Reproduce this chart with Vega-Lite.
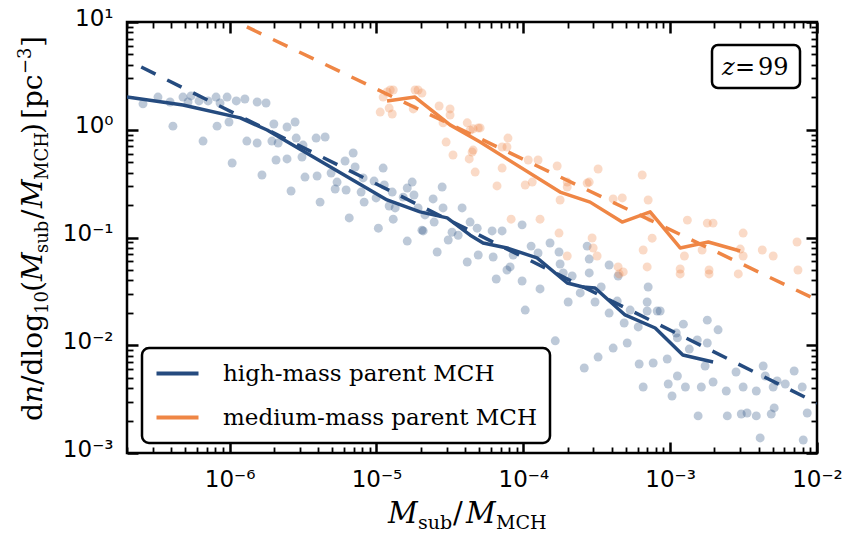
{
  "$schema": "https://vega.github.io/schema/vega-lite/v6.json",
  "width": 690,
  "height": 431,
  "autosize": {"type": "none"},
  "padding": {"left": 127, "top": 22, "right": 25, "bottom": 81},
  "background": "white",
  "config": {
    "font": "DejaVu Sans",
    "view": {"stroke": "black", "strokeWidth": 2.5},
    "axis": {"domain": false, "grid": false, "title": null, "tickColor": "black", "labelColor": "black", "labelFont": "DejaVu Sans", "labelFontSize": 23, "labelFlush": false, "labelOverlap": false},
    "legend": {"labelFont": "DejaVu Serif"}
  },
  "datasets": {
    "high_pts": [
      {"m": 2.57e-7, "dn": 1.74}, {"m": 3.25e-7, "dn": 2.01}, {"m": 3.93e-7, "dn": 1.81}, {"m": 4.11e-7, "dn": 1.08},
      {"m": 4.81e-7, "dn": 2.01}, {"m": 5.21e-7, "dn": 1.81}, {"m": 5.46e-7, "dn": 2.06}, {"m": 6.19e-7, "dn": 1.85},
      {"m": 6.59e-7, "dn": 0.785}, {"m": 7.13e-7, "dn": 1.85}, {"m": 8.08e-7, "dn": 2.01}, {"m": 8.21e-7, "dn": 1.08},
      {"m": 8.6e-7, "dn": 1.77}, {"m": 9.61e-7, "dn": 2.01}, {"m": 9.9e-7, "dn": 1.18}, {"m": 1.04e-6, "dn": 0.491},
      {"m": 1.11e-6, "dn": 1.85}, {"m": 1.27e-6, "dn": 1.93}, {"m": 1.31e-6, "dn": 0.785}, {"m": 1.54e-6, "dn": 1.81},
      {"m": 1.54e-6, "dn": 0.753}, {"m": 1.66e-6, "dn": 0.38}, {"m": 1.77e-6, "dn": 1.77}, {"m": 1.94e-6, "dn": 0.785},
      {"m": 2.0e-6, "dn": 1.13}, {"m": 2.07e-6, "dn": 0.524}, {"m": 2.14e-6, "dn": 0.753}, {"m": 2.46e-6, "dn": 1.06},
      {"m": 2.46e-6, "dn": 0.536}, {"m": 2.62e-6, "dn": 0.27}, {"m": 2.79e-6, "dn": 1.18}, {"m": 2.84e-6, "dn": 0.837},
      {"m": 3.11e-6, "dn": 0.559}, {"m": 3.16e-6, "dn": 0.721}, {"m": 3.26e-6, "dn": 0.364}, {"m": 3.88e-6, "dn": 0.837},
      {"m": 3.94e-6, "dn": 0.372}, {"m": 4.13e-6, "dn": 0.213}, {"m": 4.47e-6, "dn": 0.856}, {"m": 4.91e-6, "dn": 0.397},
      {"m": 5.23e-6, "dn": 0.282}, {"m": 5.39e-6, "dn": 0.327}, {"m": 6.11e-6, "dn": 0.513}, {"m": 6.21e-6, "dn": 0.276},
      {"m": 6.52e-6, "dn": 0.152}, {"m": 6.94e-6, "dn": 0.608}, {"m": 7.15e-6, "dn": 0.451}, {"m": 7.86e-6, "dn": 0.264},
      {"m": 8.11e-6, "dn": 0.357}, {"m": 8.24e-6, "dn": 0.213}, {"m": 9.63e-6, "dn": 0.334}, {"m": 9.94e-6, "dn": 0.233},
      {"m": 1.03e-5, "dn": 0.122}, {"m": 1.11e-5, "dn": 0.441}, {"m": 1.13e-5, "dn": 0.307}, {"m": 1.22e-5, "dn": 0.196},
      {"m": 1.28e-5, "dn": 0.264}, {"m": 1.3e-5, "dn": 0.148}, {"m": 1.34e-5, "dn": 0.188}, {"m": 1.52e-5, "dn": 0.237},
      {"m": 1.62e-5, "dn": 0.288}, {"m": 1.75e-5, "dn": 0.327}, {"m": 1.8e-5, "dn": 0.248}, {"m": 1.92e-5, "dn": 0.188},
      {"m": 2.04e-5, "dn": 0.117}, {"m": 2.14e-5, "dn": 0.162}, {"m": 2.43e-5, "dn": 0.228}, {"m": 2.47e-5, "dn": 0.139},
      {"m": 2.8e-5, "dn": 0.294}, {"m": 2.84e-5, "dn": 0.188}, {"m": 3.83e-5, "dn": 0.188}, {"m": 4.34e-5, "dn": 0.139},
      {"m": 4.85e-5, "dn": 0.122}, {"m": 1.62e-5, "dn": 0.0927}, {"m": 2.08e-5, "dn": 0.115}, {"m": 2.59e-5, "dn": 0.0733},
      {"m": 3.08e-5, "dn": 0.0948}, {"m": 3.27e-5, "dn": 0.112}, {"m": 3.6e-5, "dn": 0.105}, {"m": 4.15e-5, "dn": 0.0592},
      {"m": 4.93e-5, "dn": 0.0688}, {"m": 6.13e-5, "dn": 0.115}, {"m": 6.23e-5, "dn": 0.0659}, {"m": 6.54e-5, "dn": 0.0412},
      {"m": 7.17e-5, "dn": 0.115}, {"m": 7.74e-5, "dn": 0.0499}, {"m": 8.13e-5, "dn": 0.0533}, {"m": 8.53e-5, "dn": 0.0688},
      {"m": 9.81e-5, "dn": 0.131}, {"m": 9.81e-5, "dn": 0.0395}, {"m": 1.03e-4, "dn": 0.0212}, {"m": 1.13e-4, "dn": 0.0832},
      {"m": 1.26e-4, "dn": 0.0718}, {"m": 1.3e-4, "dn": 0.0333}, {"m": 1.52e-4, "dn": 0.0889}, {"m": 1.65e-4, "dn": 0.011},
      {"m": 1.75e-4, "dn": 0.0733}, {"m": 1.78e-4, "dn": 0.0568}, {"m": 1.87e-4, "dn": 0.0469}, {"m": 2.02e-4, "dn": 0.0252},
      {"m": 2.15e-4, "dn": 0.0439}, {"m": 2.44e-4, "dn": 0.0306}, {"m": 2.6e-4, "dn": 0.00615}, {"m": 2.72e-4, "dn": 0.0832},
      {"m": 2.81e-4, "dn": 0.0631}, {"m": 2.81e-4, "dn": 0.0469}, {"m": 3.08e-4, "dn": 0.0252}, {"m": 3.23e-4, "dn": 0.00777},
      {"m": 3.39e-4, "dn": 0.0347}, {"m": 3.84e-4, "dn": 0.0556}, {"m": 3.84e-4, "dn": 0.0199}, {"m": 4.09e-4, "dn": 0.00942},
      {"m": 4.36e-4, "dn": 0.0257}, {"m": 4.42e-4, "dn": 0.0439}, {"m": 4.86e-4, "dn": 0.0161}, {"m": 5.1e-4, "dn": 0.0105},
      {"m": 5.34e-4, "dn": 0.0212}, {"m": 6.06e-4, "dn": 0.0148}, {"m": 6.15e-4, "dn": 0.0067}, {"m": 6.55e-4, "dn": 0.0041},
      {"m": 6.97e-4, "dn": 0.0252}, {"m": 6.97e-4, "dn": 0.0208}, {"m": 7.08e-4, "dn": 0.0347}, {"m": 7.66e-4, "dn": 0.00684},
      {"m": 8.16e-4, "dn": 0.0208}, {"m": 8.55e-4, "dn": 0.0208}, {"m": 9.55e-4, "dn": 0.00745}, {"m": 9.7e-4, "dn": 0.00437},
      {"m": 1.03e-3, "dn": 0.00338}, {"m": 1.1e-3, "dn": 0.013}, {"m": 1.12e-3, "dn": 0.0117}, {"m": 1.12e-3, "dn": 0.00518},
      {"m": 1.23e-3, "dn": 0.0157}, {"m": 1.27e-3, "dn": 0.0041}, {"m": 1.35e-3, "dn": 0.00922}, {"m": 1.53e-3, "dn": 0.0112},
      {"m": 1.55e-3, "dn": 0.00221}, {"m": 1.63e-3, "dn": 0.0041}, {"m": 1.73e-3, "dn": 0.00642}, {"m": 1.79e-3, "dn": 0.0105},
      {"m": 1.79e-3, "dn": 0.0171}, {"m": 1.96e-3, "dn": 0.00456}, {"m": 2.12e-3, "dn": 0.0139}, {"m": 2.41e-3, "dn": 0.00376},
      {"m": 2.45e-3, "dn": 0.00221}, {"m": 2.81e-3, "dn": 0.00565}, {"m": 3.05e-3, "dn": 0.0023}, {"m": 3.14e-3, "dn": 0.0041},
      {"m": 3.34e-3, "dn": 0.00235}, {"m": 3.86e-3, "dn": 0.00376}, {"m": 3.86e-3, "dn": 0.00221}, {"m": 4.1e-3, "dn": 0.00138},
      {"m": 4.3e-3, "dn": 0.00642}, {"m": 4.44e-3, "dn": 0.00518}, {"m": 4.88e-3, "dn": 0.0023}, {"m": 5.11e-3, "dn": 0.00262},
      {"m": 5.03e-3, "dn": 0.0041}, {"m": 5.35e-3, "dn": 0.00466}, {"m": 6.08e-3, "dn": 0.00437}, {"m": 6.99e-3, "dn": 0.00577},
      {"m": 7.93e-3, "dn": 0.0041}, {"m": 8.06e-3, "dn": 0.00132}, {"m": 8.58e-3, "dn": 0.00235}
    ],
    "medium_pts": [
      {"m": 1.06e-5, "dn": 1.46}, {"m": 1.11e-5, "dn": 2.01}, {"m": 1.18e-5, "dn": 2.24}, {"m": 1.24e-5, "dn": 2.34},
      {"m": 1.3e-5, "dn": 2.34}, {"m": 1.22e-5, "dn": 1.59}, {"m": 1.28e-5, "dn": 1.4}, {"m": 1.78e-5, "dn": 1.56},
      {"m": 1.83e-5, "dn": 2.34}, {"m": 1.92e-5, "dn": 2.34}, {"m": 2.04e-5, "dn": 2.19}, {"m": 2.67e-5, "dn": 1.66},
      {"m": 2.84e-5, "dn": 1.16}, {"m": 2.98e-5, "dn": 0.769}, {"m": 3.17e-5, "dn": 1.56}, {"m": 3.17e-5, "dn": 1.37},
      {"m": 3.32e-5, "dn": 0.583}, {"m": 4.15e-5, "dn": 1.16}, {"m": 4.28e-5, "dn": 0.536}, {"m": 4.48e-5, "dn": 0.621},
      {"m": 4.55e-5, "dn": 1.02}, {"m": 4.7e-5, "dn": 0.405}, {"m": 4.93e-5, "dn": 1.04}, {"m": 4.34e-5, "dn": 0.99},
      {"m": 5.08e-5, "dn": 1.04}, {"m": 4.55e-5, "dn": 0.648}, {"m": 7.17e-5, "dn": 0.692}, {"m": 7.74e-5, "dn": 0.692},
      {"m": 7.86e-5, "dn": 0.837}, {"m": 7.17e-5, "dn": 0.441}, {"m": 6.62e-5, "dn": 0.301}, {"m": 1.03e-4, "dn": 0.307},
      {"m": 1.08e-4, "dn": 0.524}, {"m": 1.15e-4, "dn": 0.327}, {"m": 1.26e-4, "dn": 0.524}, {"m": 1.3e-4, "dn": 0.148},
      {"m": 1.7e-4, "dn": 0.461}, {"m": 1.78e-4, "dn": 0.223}, {"m": 1.99e-4, "dn": 0.327}, {"m": 1.99e-4, "dn": 0.294},
      {"m": 2.72e-4, "dn": 0.32}, {"m": 2.81e-4, "dn": 0.327}, {"m": 3.23e-4, "dn": 0.432}, {"m": 4.09e-4, "dn": 0.228},
      {"m": 4.72e-4, "dn": 0.233}, {"m": 6.45e-4, "dn": 0.38}, {"m": 7.08e-4, "dn": 0.223}, {"m": 7.31e-4, "dn": 0.152},
      {"m": 1.31e-3, "dn": 0.145}, {"m": 1.79e-3, "dn": 0.136}, {"m": 1.96e-3, "dn": 0.136}, {"m": 3.14e-3, "dn": 0.11},
      {"m": 8.26e-5, "dn": 0.148}, {"m": 1.75e-4, "dn": 0.11}, {"m": 1.99e-4, "dn": 0.0673}, {"m": 2.94e-4, "dn": 0.099},
      {"m": 2.99e-4, "dn": 0.0799}, {"m": 3.18e-4, "dn": 0.0673}, {"m": 4.42e-4, "dn": 0.0533}, {"m": 4.79e-4, "dn": 0.0479},
      {"m": 4.49e-4, "dn": 0.0459}, {"m": 6.55e-4, "dn": 0.0765}, {"m": 6.97e-4, "dn": 0.0533}, {"m": 7.54e-4, "dn": 0.0985},
      {"m": 1.17e-3, "dn": 0.051}, {"m": 1.17e-3, "dn": 0.0459}, {"m": 1.25e-3, "dn": 0.0673}, {"m": 1.65e-3, "dn": 0.0765},
      {"m": 1.84e-3, "dn": 0.0499}, {"m": 1.84e-3, "dn": 0.0459}, {"m": 3.0e-3, "dn": 0.0781}, {"m": 2.91e-3, "dn": 0.0459},
      {"m": 3.14e-3, "dn": 0.0673}, {"m": 4.24e-3, "dn": 0.0765}, {"m": 5.03e-3, "dn": 0.0673}, {"m": 7.31e-3, "dn": 0.0909},
      {"m": 7.42e-3, "dn": 0.0499}
    ],
    "binned": [
      {"m": 2.0e-7, "dn": 2.01, "parent": "high-mass parent MCH"},
      {"m": 4.81e-7, "dn": 1.7, "parent": "high-mass parent MCH"},
      {"m": 1.18e-6, "dn": 1.29, "parent": "high-mass parent MCH"},
      {"m": 1.8e-6, "dn": 0.995, "parent": "high-mass parent MCH"},
      {"m": 1.18e-5, "dn": 0.223, "parent": "high-mass parent MCH"},
      {"m": 1.98e-5, "dn": 0.173, "parent": "high-mass parent MCH"},
      {"m": 3.03e-5, "dn": 0.152, "parent": "high-mass parent MCH"},
      {"m": 4.35e-5, "dn": 0.105, "parent": "high-mass parent MCH"},
      {"m": 5.32e-5, "dn": 0.0889, "parent": "high-mass parent MCH"},
      {"m": 7.76e-5, "dn": 0.08, "parent": "high-mass parent MCH"},
      {"m": 1.24e-4, "dn": 0.0646, "parent": "high-mass parent MCH"},
      {"m": 1.99e-4, "dn": 0.0378, "parent": "high-mass parent MCH"},
      {"m": 2.55e-4, "dn": 0.0347, "parent": "high-mass parent MCH"},
      {"m": 3.08e-4, "dn": 0.034, "parent": "high-mass parent MCH"},
      {"m": 4.93e-4, "dn": 0.0191, "parent": "high-mass parent MCH"},
      {"m": 7.91e-4, "dn": 0.01446, "parent": "high-mass parent MCH"},
      {"m": 1.22e-3, "dn": 0.00811, "parent": "high-mass parent MCH"},
      {"m": 1.96e-3, "dn": 0.007, "parent": "high-mass parent MCH"},
      {"m": 1.18e-5, "dn": 1.85, "parent": "medium-mass parent MCH"},
      {"m": 1.83e-5, "dn": 2.01, "parent": "medium-mass parent MCH"},
      {"m": 3.17e-5, "dn": 1.11, "parent": "medium-mass parent MCH"},
      {"m": 5.08e-5, "dn": 0.769, "parent": "medium-mass parent MCH"},
      {"m": 1.78e-4, "dn": 0.264, "parent": "medium-mass parent MCH"},
      {"m": 2.85e-4, "dn": 0.213, "parent": "medium-mass parent MCH"},
      {"m": 4.71e-4, "dn": 0.139, "parent": "medium-mass parent MCH"},
      {"m": 7.31e-4, "dn": 0.173, "parent": "medium-mass parent MCH"},
      {"m": 1.17e-3, "dn": 0.08, "parent": "medium-mass parent MCH"},
      {"m": 1.82e-3, "dn": 0.0908, "parent": "medium-mass parent MCH"},
      {"m": 3.0e-3, "dn": 0.075, "parent": "medium-mass parent MCH"}
    ],
    "powerlaw": [
      {"m": 2.5e-7, "dn": 3.82, "parent": "high-mass parent MCH"},
      {"m": 1.0e-2, "dn": 0.0029, "parent": "high-mass parent MCH"},
      {"m": 1.31e-6, "dn": 9.0, "parent": "medium-mass parent MCH"},
      {"m": 1.0e-2, "dn": 0.0263, "parent": "medium-mass parent MCH"}
    ]
  },
  "layer": [
    {
      "data": {"name": "high_pts"},
      "mark": {"type": "circle", "color": "#254b7f", "opacity": 0.3, "size": 80, "clip": true},
      "encoding": {
        "x": {"field": "m", "type": "quantitative", "scale": {"type": "log", "domain": [2e-7, 1e-2], "nice": false},
              "axis": {"orient": "bottom", "values": [1e-6, 1e-5, 1e-4, 1e-3, 1e-2], "tickSize": -11, "tickWidth": 2.5, "labelPadding": 26,
                       "labelExpr": "'10' + ['⁻⁶','⁻⁵','⁻⁴','⁻³','⁻²'][round(log(datum.value)/LN10) + 6]"}},
        "y": {"field": "dn", "type": "quantitative", "scale": {"type": "log", "domain": [1e-3, 10], "nice": false},
              "axis": {"orient": "left", "values": [1e-3, 1e-2, 1e-1, 1, 10], "tickSize": -11, "tickWidth": 2.5, "labelPadding": 25, "labelOffset": -4,
                       "labelExpr": "'10' + ['⁻³','⁻²','⁻¹','⁰','¹'][round(log(datum.value)/LN10) + 3]"}}
      }
    },
    {
      "data": {"name": "medium_pts"},
      "mark": {"type": "circle", "color": "#ef8645", "opacity": 0.3, "size": 80, "clip": true},
      "encoding": {
        "x": {"field": "m", "type": "quantitative", "scale": {"type": "log", "domain": [2e-7, 1e-2], "nice": false},
              "axis": {"orient": "top", "values": [1e-6, 1e-5, 1e-4, 1e-3, 1e-2], "tickSize": -11, "tickWidth": 2.5, "labels": false}},
        "y": {"field": "dn", "type": "quantitative", "scale": {"type": "log", "domain": [1e-3, 10], "nice": false},
              "axis": {"orient": "right", "values": [1e-3, 1e-2, 1e-1, 1, 10], "tickSize": -11, "tickWidth": 2.5, "labels": false}}
      }
    },
    {
      "data": {"name": "powerlaw"},
      "transform": [{"filter": "datum.parent === 'high-mass parent MCH'"}],
      "mark": {"type": "line", "color": "#254b7f", "strokeWidth": 3.5, "strokeDash": [16, 13], "strokeCap": "butt", "clip": true},
      "encoding": {
        "x": {"field": "m", "type": "quantitative", "scale": {"type": "log", "domain": [2e-7, 1e-2], "nice": false},
              "axis": {"orient": "bottom", "values": [2e-7, 3e-7, 4e-7, 5e-7, 6e-7, 7e-7, 8e-7, 9e-7, 2e-6, 3e-6, 4e-6, 5e-6, 6e-6, 7e-6, 8e-6, 9e-6, 2e-5, 3e-5, 4e-5, 5e-5, 6e-5, 7e-5, 8e-5, 9e-5, 2e-4, 3e-4, 4e-4, 5e-4, 6e-4, 7e-4, 8e-4, 9e-4, 2e-3, 3e-3, 4e-3, 5e-3, 6e-3, 7e-3, 8e-3, 9e-3], "tickSize": -6, "tickWidth": 1.8, "labels": false}},
        "y": {"field": "dn", "type": "quantitative", "scale": {"type": "log", "domain": [1e-3, 10], "nice": false},
              "axis": {"orient": "left", "values": [2e-3, 3e-3, 4e-3, 5e-3, 6e-3, 7e-3, 8e-3, 9e-3, 2e-2, 3e-2, 4e-2, 5e-2, 6e-2, 7e-2, 8e-2, 9e-2, 0.2, 0.3, 0.4, 0.5, 0.6, 0.7, 0.8, 0.9, 2, 3, 4, 5, 6, 7, 8, 9], "tickSize": -6, "tickWidth": 1.8, "labels": false}}
      }
    },
    {
      "data": {"name": "powerlaw"},
      "transform": [{"filter": "datum.parent === 'medium-mass parent MCH'"}],
      "mark": {"type": "line", "color": "#ef8645", "strokeWidth": 3.5, "strokeDash": [16, 13], "strokeCap": "butt", "clip": true},
      "encoding": {
        "x": {"field": "m", "type": "quantitative", "scale": {"type": "log", "domain": [2e-7, 1e-2], "nice": false}, "axis": null},
        "y": {"field": "dn", "type": "quantitative", "scale": {"type": "log", "domain": [1e-3, 10], "nice": false}, "axis": null}
      }
    },
    {
      "data": {"name": "binned"},
      "mark": {"type": "line", "strokeWidth": 3.5, "strokeJoin": "round", "clip": true},
      "encoding": {
        "x": {"field": "m", "type": "quantitative", "scale": {"type": "log", "domain": [2e-7, 1e-2], "nice": false},
              "axis": {"orient": "top", "values": [2e-7, 3e-7, 4e-7, 5e-7, 6e-7, 7e-7, 8e-7, 9e-7, 2e-6, 3e-6, 4e-6, 5e-6, 6e-6, 7e-6, 8e-6, 9e-6, 2e-5, 3e-5, 4e-5, 5e-5, 6e-5, 7e-5, 8e-5, 9e-5, 2e-4, 3e-4, 4e-4, 5e-4, 6e-4, 7e-4, 8e-4, 9e-4, 2e-3, 3e-3, 4e-3, 5e-3, 6e-3, 7e-3, 8e-3, 9e-3], "tickSize": -6, "tickWidth": 1.8, "labels": false}},
        "y": {"field": "dn", "type": "quantitative", "scale": {"type": "log", "domain": [1e-3, 10], "nice": false},
              "axis": {"orient": "right", "values": [2e-3, 3e-3, 4e-3, 5e-3, 6e-3, 7e-3, 8e-3, 9e-3, 2e-2, 3e-2, 4e-2, 5e-2, 6e-2, 7e-2, 8e-2, 9e-2, 0.2, 0.3, 0.4, 0.5, 0.6, 0.7, 0.8, 0.9, 2, 3, 4, 5, 6, 7, 8, 9], "tickSize": -6, "tickWidth": 1.8, "labels": false}},
        "color": {"field": "parent", "type": "nominal",
                  "scale": {"domain": ["high-mass parent MCH", "medium-mass parent MCH"], "range": ["#254b7f", "#ef8645"]},
                  "legend": {"orient": "none", "legendX": 15, "legendY": 326, "title": null,
                             "symbolType": "M-2,0H2", "symbolSize": 441, "symbolStrokeWidth": 4, "symbolOffset": 10,
                             "labelFont": "DejaVu Serif", "labelFontSize": 23, "labelColor": "black", "labelOffset": 33, "labelLimit": 600,
                             "padding": 13, "rowPadding": 19, "cornerRadius": 7, "strokeColor": "black", "fillColor": "white",
                             "encode": {"legend": {"update": {"strokeWidth": {"value": 2.5}}},
                                        "labels": {"update": {"font": {"value": "DejaVu Serif"}}}}}}
      }
    },
    {
      "data": {"values": [{}]},
      "mark": {"type": "rect", "x": {"expr": "width-105"}, "x2": {"expr": "width-17"}, "y": 23, "y2": 66,
               "cornerRadius": 6, "fill": "white", "stroke": "black", "strokeWidth": 2.5},
      "encoding": {}
    },
    {"data": {"values": [{}]}, "mark": {"type": "text", "text": "z", "font": "DejaVu Serif", "fontStyle": "italic", "fontSize": 24, "align": "left", "baseline": "alphabetic", "color": "black", "x": {"expr": "width-95"}, "y": 53}, "encoding": {}},
    {"data": {"values": [{}]}, "mark": {"type": "text", "text": "=", "font": "DejaVu Serif", "fontSize": 24, "align": "left", "baseline": "alphabetic", "color": "black", "x": {"expr": "width-82"}, "y": 53}, "encoding": {}},
    {"data": {"values": [{}]}, "mark": {"type": "text", "text": "99", "font": "DejaVu Serif", "fontSize": 24, "align": "left", "baseline": "alphabetic", "color": "black", "x": {"expr": "width-59"}, "y": 53}, "encoding": {}},

    {"data": {"values": [{}]}, "mark": {"type": "text", "text": "M", "font": "DejaVu Serif", "fontStyle": "italic", "fontSize": 29, "align": "left", "baseline": "alphabetic", "color": "black", "x": {"expr": "width/2-84"}, "y": {"expr": "height+70"}}, "encoding": {}},
    {"data": {"values": [{}]}, "mark": {"type": "text", "text": "sub", "font": "DejaVu Serif", "fontSize": 19, "align": "left", "baseline": "alphabetic", "color": "black", "x": {"expr": "width/2-54"}, "y": {"expr": "height+76"}}, "encoding": {}},
    {"data": {"values": [{}]}, "mark": {"type": "text", "text": "/", "font": "DejaVu Serif", "fontSize": 29, "align": "left", "baseline": "alphabetic", "color": "black", "x": {"expr": "width/2-19"}, "y": {"expr": "height+70"}}, "encoding": {}},
    {"data": {"values": [{}]}, "mark": {"type": "text", "text": "M", "font": "DejaVu Serif", "fontStyle": "italic", "fontSize": 29, "align": "left", "baseline": "alphabetic", "color": "black", "x": {"expr": "width/2-6"}, "y": {"expr": "height+70"}}, "encoding": {}},
    {"data": {"values": [{}]}, "mark": {"type": "text", "text": "MCH", "font": "DejaVu Serif", "fontSize": 19, "align": "left", "baseline": "alphabetic", "color": "black", "x": {"expr": "width/2+24"}, "y": {"expr": "height+76"}}, "encoding": {}},

    {"data": {"values": [{}]}, "mark": {"type": "text", "text": "d", "font": "DejaVu Serif", "fontSize": 28, "angle": 270, "align": "left", "baseline": "alphabetic", "color": "black", "x": -85, "y": {"expr": "height-32"}, "dx": 0}, "encoding": {}},
    {"data": {"values": [{}]}, "mark": {"type": "text", "text": "n", "font": "DejaVu Serif", "fontStyle": "italic", "fontSize": 28, "angle": 270, "align": "left", "baseline": "alphabetic", "color": "black", "x": -85, "y": {"expr": "height-32"}, "dx": 18}, "encoding": {}},
    {"data": {"values": [{}]}, "mark": {"type": "text", "text": "/dlog", "font": "DejaVu Serif", "fontSize": 28, "angle": 270, "align": "left", "baseline": "alphabetic", "color": "black", "x": -85, "y": {"expr": "height-32"}, "dx": 36}, "encoding": {}},
    {"data": {"values": [{}]}, "mark": {"type": "text", "text": "10", "font": "DejaVu Serif", "fontSize": 18, "angle": 270, "align": "left", "baseline": "alphabetic", "color": "black", "x": -85, "y": {"expr": "height-32"}, "dx": 107, "dy": 6}, "encoding": {}},
    {"data": {"values": [{}]}, "mark": {"type": "text", "text": "(", "font": "DejaVu Serif", "fontSize": 28, "angle": 270, "align": "left", "baseline": "alphabetic", "color": "black", "x": -85, "y": {"expr": "height-32"}, "dx": 129}, "encoding": {}},
    {"data": {"values": [{}]}, "mark": {"type": "text", "text": "M", "font": "DejaVu Serif", "fontStyle": "italic", "fontSize": 28, "angle": 270, "align": "left", "baseline": "alphabetic", "color": "black", "x": -85, "y": {"expr": "height-32"}, "dx": 140}, "encoding": {}},
    {"data": {"values": [{}]}, "mark": {"type": "text", "text": "sub", "font": "DejaVu Serif", "fontSize": 18, "angle": 270, "align": "left", "baseline": "alphabetic", "color": "black", "x": -85, "y": {"expr": "height-32"}, "dx": 168, "dy": 6}, "encoding": {}},
    {"data": {"values": [{}]}, "mark": {"type": "text", "text": "/", "font": "DejaVu Serif", "fontSize": 28, "angle": 270, "align": "left", "baseline": "alphabetic", "color": "black", "x": -85, "y": {"expr": "height-32"}, "dx": 202}, "encoding": {}},
    {"data": {"values": [{}]}, "mark": {"type": "text", "text": "M", "font": "DejaVu Serif", "fontStyle": "italic", "fontSize": 28, "angle": 270, "align": "left", "baseline": "alphabetic", "color": "black", "x": -85, "y": {"expr": "height-32"}, "dx": 213}, "encoding": {}},
    {"data": {"values": [{}]}, "mark": {"type": "text", "text": "MCH", "font": "DejaVu Serif", "fontSize": 18, "angle": 270, "align": "left", "baseline": "alphabetic", "color": "black", "x": -85, "y": {"expr": "height-32"}, "dx": 241, "dy": 6}, "encoding": {}},
    {"data": {"values": [{}]}, "mark": {"type": "text", "text": ")", "font": "DejaVu Serif", "fontSize": 28, "angle": 270, "align": "left", "baseline": "alphabetic", "color": "black", "x": -85, "y": {"expr": "height-32"}, "dx": 287}, "encoding": {}},
    {"data": {"values": [{}]}, "mark": {"type": "text", "text": "[pc", "font": "DejaVu Serif", "fontSize": 28, "angle": 270, "align": "left", "baseline": "alphabetic", "color": "black", "x": -85, "y": {"expr": "height-32"}, "dx": 302}, "encoding": {}},
    {"data": {"values": [{}]}, "mark": {"type": "text", "text": "−3", "font": "DejaVu Serif", "fontSize": 18, "angle": 270, "align": "left", "baseline": "alphabetic", "color": "black", "x": -85, "y": {"expr": "height-32"}, "dx": 347, "dy": -11}, "encoding": {}},
    {"data": {"values": [{}]}, "mark": {"type": "text", "text": "]", "font": "DejaVu Serif", "fontSize": 28, "angle": 270, "align": "left", "baseline": "alphabetic", "color": "black", "x": -85, "y": {"expr": "height-32"}, "dx": 374}, "encoding": {}}
  ],
  "resolve": {"axis": {"x": "independent", "y": "independent"}}
}
